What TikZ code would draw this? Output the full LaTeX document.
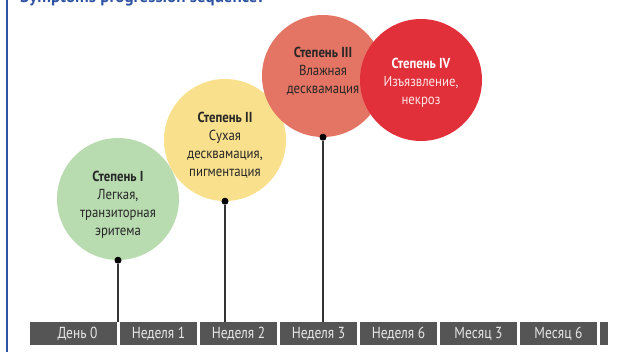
\documentclass[tikz,border=0pt]{standalone}
\usepackage{fontspec}
\setmainfont{PT Sans}
\newfontfamily\narrowfont[FakeStretch=0.88]{PT Sans}
\newfontfamily\barfont[FakeStretch=0.84]{PT Sans}
\definecolor{titleblue}{HTML}{2F53A3}
\definecolor{stageI}{HTML}{B8DBB0}
\definecolor{stageII}{HTML}{F9E08C}
\definecolor{stageIII}{HTML}{E47463}
\definecolor{stageIV}{HTML}{E1303A}
\definecolor{bargrey}{HTML}{555555}
\definecolor{bartext}{HTML}{E6E6E6}
\definecolor{stemgrey}{HTML}{333333}
\tikzset{
  stage/.style={circle, minimum size=122pt, inner sep=0pt},
  stagetext/.style={align=center, inner sep=0pt, text=black!85,
    font=\narrowfont\fontsize{14.5}{18}\selectfont},
  period/.style={fill=bargrey, text=bartext, minimum width=77pt, minimum height=23pt,
    inner sep=0pt, font=\barfont\fontsize{16}{18}\selectfont},
  tipdot/.style={circle, fill=black, minimum size=7pt, inner sep=0pt},
  stem/.style={draw=stemgrey, line width=1.3pt}
}
\begin{document}
\begin{tikzpicture}[x=1pt,y=-1pt]
\useasboundingbox (0,0) rectangle (630,352);
% left rule and title
\draw[titleblue, line width=2pt] (7,0) -- (7,352);
\node[anchor=base west, inner sep=0pt, text=titleblue, font=\bfseries\fontsize{17}{19}\selectfont] (title) at (20,2.5) {Symptoms progression sequence:};
% time bar
\node[period, minimum width=87pt] (t0) at (73.5,333.5) {\hspace*{8pt}День 0};
\foreach \lab [count=\i] in {Неделя 1, Неделя 2, Неделя 3, Неделя 6, Месяц 3, Месяц 6}
  \node[period] (t\i) at (78.5+80*\i,333.5) {\lab};
\node[period, minimum width=8pt] (t7) at (604,333.5) {};
% stages
\node[stage, fill=stageI] (s1) at (118,199) {};
\node[stage, fill=stageII] (s2) at (225,140) {};
\node[stage, fill=stageIII] (s3) at (323,76) {};
\node[stage, fill=stageIV] (s4) at (421,80) {};
\node[stagetext] (s1text) at (118,205) {\textbf{Степень I}\\Легкая,\\транзиторная\\эритема};
\node[stagetext] (s2text) at (225,145) {\textbf{Степень II}\\Сухая\\десквамация,\\пигментация};
\node[stagetext] (s3text) at (323,71) {\textbf{Степень III}\\Влажная\\десквамация};
\node[stagetext, text=white!88!stageIV] (s4text) at (421,83) {\textbf{\color{white}Степень IV}\\Изъязвление,\\некроз};
% stems
\node[tipdot] (d1) at (s1.south) {};
\node[tipdot] (d2) at (s2.south) {};
\node[tipdot] (d3) at (s3.south) {};
\draw[stem] (d1) -- (d1 |- t1.north);
\draw[stem] (d2) -- (d2 |- t2.north);
\draw[stem] (d3) -- (d3 |- t3.north);
\end{tikzpicture}
\end{document}
